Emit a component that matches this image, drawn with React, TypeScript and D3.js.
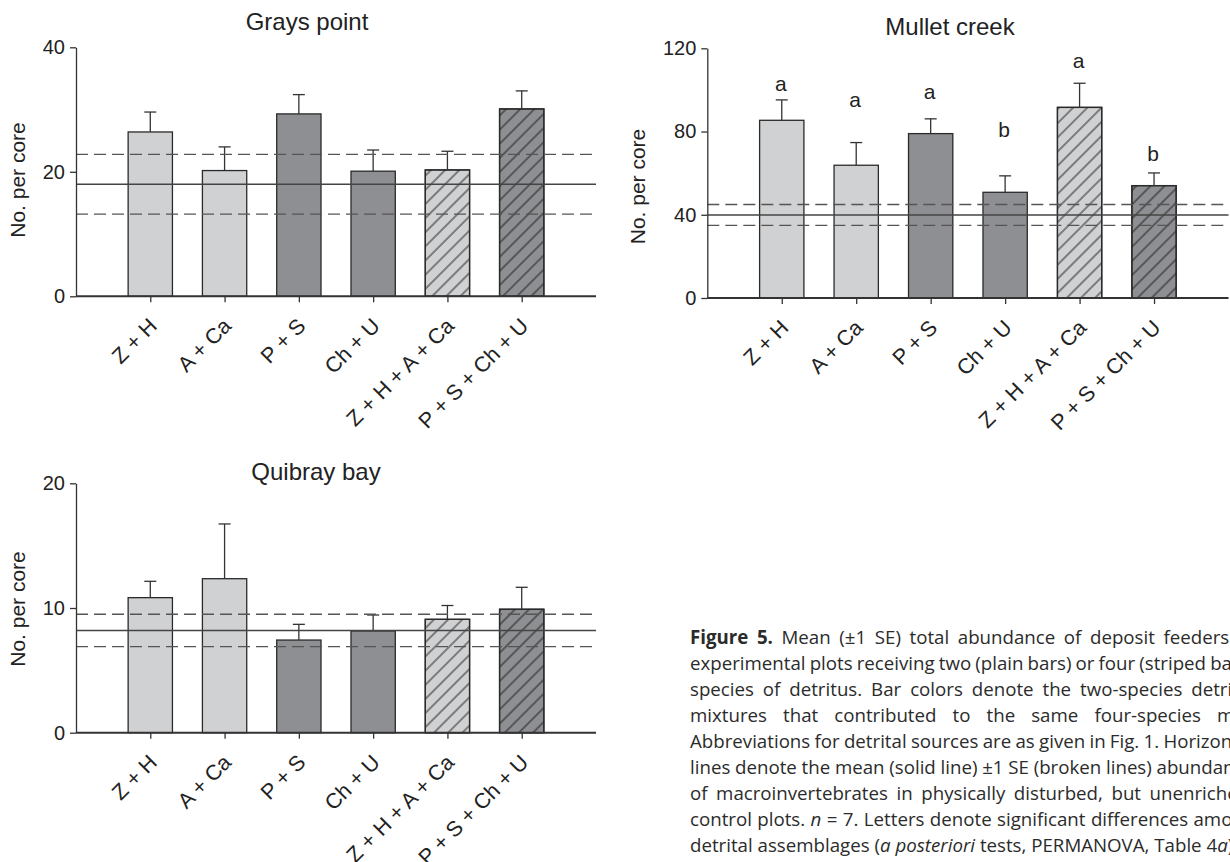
import React, { useRef, useEffect } from 'react';
import * as d3 from 'd3';

// detrital mixtures on the x axis of every panel
const mixtures = ['Z + H', 'A + Ca', 'P + S', 'Ch + U', 'Z + H + A + Ca', 'P + S + Ch + U'];
// which four-species mixture each bar belongs to, and how many species it holds
const mixGroup = ['ZHACa', 'ZHACa', 'PSChU', 'PSChU', 'ZHACa', 'PSChU'];
const speciesCount = [2, 2, 2, 2, 4, 4];

const graysMean = [26.4, 20.2, 29.3, 20.1, 20.3, 30.1];
const graysSE = [3.2, 3.8, 3.1, 3.4, 3.0, 2.9];
const graysControl = [18.0, 4.8]; // mean, SE
const graysTicks = [0, 20, 40];

const mulletMean = [85.4, 63.8, 79.0, 50.8, 91.6, 54.0];
const mulletSE = [9.8, 10.9, 7.1, 7.9, 11.6, 6.1];
const mulletControl = [39.9, 5.0];
const mulletTicks = [0, 40, 80, 120];
const mulletLetters = ['a', 'a', 'a', 'b', 'a', 'b'];
const mulletLetterLevel = [99.6, 91.9, 95.4, 77.6, 110.6, 65.6];

const quibrayMean = [10.83, 12.35, 7.43, 8.16, 9.09, 9.9];
const quibraySE = [1.31, 4.39, 1.26, 1.28, 1.11, 1.76];
const quibrayControl = [8.2, 1.3];
const quibrayTicks = [0, 10, 20];

// caption, **bold** and *italic* marked
const captionLines = [
  '**Figure 5.** Mean (±1 SE) total abundance of deposit feeders in',
  'experimental plots receiving two (plain bars) or four (striped bars)',
  'species of detritus. Bar colors denote the two-species detrital',
  'mixtures that contributed to the same four-species mixture.',
  'Abbreviations for detrital sources are as given in Fig. 1. Horizontal',
  'lines denote the mean (solid line) ±1 SE (broken lines) abundance',
  'of macroinvertebrates in physically disturbed, but unenriched,',
  'control plots. *n* = 7. Letters denote significant differences among',
  'detrital assemblages (*a posteriori* tests, PERMANOVA, Table 4*a*).',
];

const chartFont = "'Liberation Sans', Arial, Helvetica, sans-serif";
const textColor = '#222';
const lineColor = '#333';

function parseLine(line) {
  const words = [];
  let bold = false;
  let ital = false;
  line.split(' ').forEach(w => {
    const segs = [];
    let buf = '';
    for (let i = 0; i < w.length; i++) {
      if (w.startsWith('**', i)) {
        if (buf) segs.push({ t: buf, bold, ital });
        buf = '';
        bold = !bold;
        i++;
        continue;
      }
      if (w[i] === '*') {
        if (buf) segs.push({ t: buf, bold, ital });
        buf = '';
        ital = !ital;
        continue;
      }
      buf += w[i];
    }
    if (buf) segs.push({ t: buf, bold, ital });
    words.push(segs);
  });
  return words;
}

function drawPanel(svg, p) {
  const g = svg.append('g').attr('font-family', chartFont).attr('fill', textColor);
  const step = (p.right - p.left) / 7;
  const x = d3.scalePoint().domain(mixtures).range([p.left + step, p.right - step]);
  const y = d3.scaleLinear().domain([0, d3.max(p.ticks)]).range([p.bottom, p.top]);
  const barW = 44.3;
  const rows = mixtures.map((m, i) => ({
    m, mean: p.mean[i], se: p.se[i], group: mixGroup[i], n: speciesCount[i],
  }));

  // bars
  g.selectAll('rect.bar')
    .data(rows)
    .join('rect')
    .attr('x', d => x(d.m) - barW / 2)
    .attr('y', d => y(d.mean))
    .attr('width', barW)
    .attr('height', d => y(0) - y(d.mean))
    .attr('fill', d => (d.group === 'ZHACa' ? '#d0d1d3' : '#8e8f92'))
    .attr('stroke', '#2a2a2a')
    .attr('stroke-width', 1.3);

  // stripes on the four-species bars
  g.selectAll('rect.hatch')
    .data(rows.filter(d => d.n === 4))
    .join('rect')
    .attr('x', d => x(d.m) - barW / 2)
    .attr('y', d => y(d.mean))
    .attr('width', barW)
    .attr('height', d => y(0) - y(d.mean))
    .attr('fill', 'url(#hatch)')
    .attr('stroke', '#2a2a2a')
    .attr('stroke-width', 1.3);

  // error bars (upper only)
  const eb = g.append('g').attr('stroke', lineColor).attr('stroke-width', 1.3);
  rows.forEach(d => {
    eb.append('line')
      .attr('x1', x(d.m)).attr('x2', x(d.m))
      .attr('y1', y(d.mean)).attr('y2', y(d.mean + d.se));
    eb.append('line')
      .attr('x1', x(d.m) - 6).attr('x2', x(d.m) + 6)
      .attr('y1', y(d.mean + d.se)).attr('y2', y(d.mean + d.se));
  });

  // control mean and +-1 SE
  const [cm, cse] = p.control;
  g.append('line')
    .attr('x1', p.left).attr('x2', p.right)
    .attr('y1', y(cm)).attr('y2', y(cm))
    .attr('stroke', '#444').attr('stroke-width', 1.4);
  [cm + cse, cm - cse].forEach(v => {
    g.append('line')
      .attr('x1', p.left).attr('x2', p.right - 4)
      .attr('y1', y(v)).attr('y2', y(v))
      .attr('stroke', '#555').attr('stroke-width', 1.4)
      .attr('stroke-dasharray', '12,6');
  });

  // y axis
  g.append('g')
    .attr('transform', `translate(${p.left},0)`)
    .call(d3.axisLeft(y).tickValues(p.ticks).tickSize(6).tickSizeOuter(0).tickPadding(5))
    .call(a => a.select('.domain').attr('stroke', lineColor).attr('stroke-width', 1.3))
    .call(a => a.selectAll('.tick line').attr('stroke', lineColor).attr('stroke-width', 1.3))
    .call(a => a.selectAll('.tick text')
      .attr('font-size', 20)
      .attr('font-family', chartFont)
      .attr('fill', textColor));

  // x axis
  g.append('g')
    .attr('transform', `translate(0,${p.bottom})`)
    .call(d3.axisBottom(x).tickSize(6).tickSizeOuter(0).tickFormat(() => ''))
    .call(a => a.select('.domain').remove())
    .call(a => a.selectAll('.tick line').attr('stroke', lineColor).attr('stroke-width', 1.3));
  g.append('line')
    .attr('x1', p.left).attr('x2', p.right)
    .attr('y1', p.bottom).attr('y2', p.bottom)
    .attr('stroke', lineColor).attr('stroke-width', 2);

  g.selectAll('text.xlab')
    .data(mixtures)
    .join('text')
    .attr('transform', d => `translate(${x(d) + 8},${p.bottom + 31}) rotate(-45)`)
    .attr('text-anchor', 'end')
    .attr('font-size', 21.5)
    .text(d => d);

  // significance letters
  if (p.letters) {
    g.selectAll('text.letter')
      .data(rows)
      .join('text')
      .attr('x', d => x(d.m) - 1)
      .attr('y', (d, i) => y(p.letterLevel[i]))
      .attr('text-anchor', 'middle')
      .attr('font-size', 21)
      .text((d, i) => p.letters[i]);
  }

  // title and y label
  g.append('text')
    .attr('x', p.titleX).attr('y', p.titleY)
    .attr('text-anchor', 'middle')
    .attr('font-size', 24)
    .text(p.title);

  g.append('text')
    .attr('transform', `translate(${p.labelX},${p.labelY}) rotate(-90)`)
    .attr('text-anchor', 'middle')
    .attr('font-size', 21)
    .text('No. per core');
}

function drawCaption(svg) {
  const capLeft = 690;
  const capTop = 644;
  const capLead = 25.98;
  const fontSize = 18.7;
  const rightEdge = [1254, 1254, 1254, 1290, 1254, 1254, 1254, 1254, null];
  const g = svg.append('g')
    .attr('font-family', "'Open Sans', 'Noto Sans', sans-serif")
    .attr('font-size', fontSize)
    .attr('fill', '#2b2b2b');

  captionLines.forEach((line, li) => {
    const words = parseLine(line);
    const yPos = capTop + li * capLead;
    const nodes = words.map(segs => {
      const t = g.append('text').attr('y', yPos);
      segs.forEach(s => t.append('tspan')
        .attr('font-weight', s.bold ? 700 : 400)
        .attr('font-style', s.ital ? 'italic' : 'normal')
        .text(s.t));
      return t;
    });
    const widths = nodes.map(n => n.node().getComputedTextLength());
    const total = d3.sum(widths);
    const right = rightEdge[li];
    const gap = right == null ? fontSize * 0.26 : (right - capLeft - total) / (words.length - 1);
    let xPos = capLeft;
    nodes.forEach((n, i) => {
      n.attr('x', xPos);
      xPos += widths[i] + gap;
    });
  });
}

export default function App() {
  const svgRef = useRef(null);

  useEffect(() => {
    const svg = d3.select(svgRef.current);
    svg.selectAll('*').remove();

    svg.append('rect').attr('width', 1230).attr('height', 862).attr('fill', '#fff');

    const defs = svg.append('defs');
    defs.append('pattern')
      .attr('id', 'hatch')
      .attr('patternUnits', 'userSpaceOnUse')
      .attr('width', 10)
      .attr('height', 10)
      .attr('patternTransform', 'rotate(45)')
      .append('line')
      .attr('x1', 5).attr('y1', 0).attr('x2', 5).attr('y2', 10)
      .attr('stroke', '#111')
      .attr('stroke-width', 0.9);

    drawPanel(svg, {
      title: 'Grays point', mean: graysMean, se: graysSE, control: graysControl, ticks: graysTicks,
      left: 76, right: 596, top: 47.3, bottom: 296.3,
      titleX: 307, titleY: 30, labelX: 25, labelY: 180,
    });
    drawPanel(svg, {
      title: 'Mullet creek', mean: mulletMean, se: mulletSE, control: mulletControl, ticks: mulletTicks,
      letters: mulletLetters, letterLevel: mulletLetterLevel,
      left: 707.3, right: 1228.5, top: 48.3, bottom: 298,
      titleX: 950, titleY: 35, labelX: 645, labelY: 186.5,
    });
    drawPanel(svg, {
      title: 'Quibray bay', mean: quibrayMean, se: quibraySE, control: quibrayControl, ticks: quibrayTicks,
      left: 76, right: 596, top: 483.3, bottom: 732.7,
      titleX: 316, titleY: 480, labelX: 25, labelY: 609,
    });

    drawCaption(svg);
  }, []);

  return (
    <svg
      ref={svgRef}
      width={1230}
      height={862}
      style={{ position: 'absolute', left: 0, top: 0 }}
    />
  );
}
